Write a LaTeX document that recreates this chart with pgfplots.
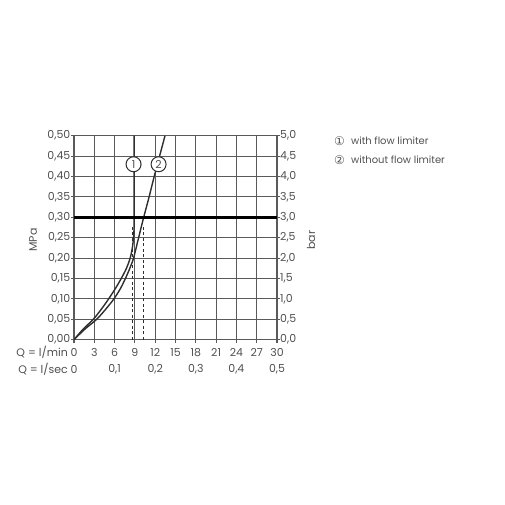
\documentclass[border=0pt]{standalone}
\usepackage{fontspec}
\setmainfont{Poppins}
\newfontfamily\symfont{DejaVu Sans}
\usepackage{pgfplots}
\pgfplotsset{compat=1.18}
\definecolor{txt}{HTML}{505050}
\definecolor{grd}{HTML}{5A5A5A}
\definecolor{crv}{HTML}{2E2E2E}
\begin{document}
\begin{tikzpicture}[x=1bp,y=1bp]
\useasboundingbox (0,0) rectangle (505,505);
\coordinate (O) at (74,165.3);
\begin{axis}[
  at={(O)}, anchor=south west,
  scale only axis, width=203bp, height=204bp,
  xmin=0, xmax=30, ymin=0, ymax=0.5,
  xtick={0,3,...,30}, ytick={0,0.05,...,0.5},
  xticklabels={}, yticklabels={},
  xtick pos=lower, ytick pos=both,
  grid=major, major grid style={grd, line width=1.1bp},
  axis line style={grd, line width=1.1bp},
  tick style={grd, line width=1.1bp}, tick align=outside, major tick length=3bp,
  clip=true,
]
% curve 1: with flow limiter
\addplot[crv, line width=1.4bp, smooth, tension=0.5] coordinates {
 (0,0) (1.3,0.025) (2.85,0.05) (4.05,0.075) (5.12,0.10) (6.1,0.125) (6.98,0.15)
 (7.75,0.175) (8.3,0.20) (8.62,0.225) (8.8,0.25) (8.88,0.28) (8.88,0.35) (8.88,0.50)};
% curve 2: without flow limiter
\addplot[crv, line width=1.4bp, smooth, tension=0.5] coordinates {
 (0,0) (1.55,0.025) (3.35,0.05) (4.7,0.075) (5.9,0.10) (6.85,0.125) (7.6,0.15)
 (8.25,0.175) (8.8,0.20) (9.55,0.25) (10.3,0.30) (11.1,0.35) (11.85,0.40) (12.65,0.45) (13.45,0.50)};
% dashed reading lines
\addplot[crv, line width=0.9bp, dash pattern=on 3bp off 2.5bp] coordinates {(8.6,0) (8.6,0.28)};
\addplot[crv, line width=0.9bp, dash pattern=on 3bp off 2.5bp] coordinates {(10.3,0) (10.3,0.28)};
% thick 0.3 MPa line
\addplot[black, line width=3.2bp] coordinates {(0,0.3) (30,0.3)};
\end{axis}
\begin{scope}[shift={(74,165.3)}, x=6.7667bp, y=408bp]
\node[circle, draw=crv, fill=white, line width=1bp, minimum size=15bp, inner sep=0pt, text=txt, font=\fontsize{11}{11}\selectfont] at (8.8,0.43) {1};
\node[circle, draw=crv, fill=white, line width=1bp, minimum size=15bp, inner sep=0pt, text=txt, font=\fontsize{11}{11}\selectfont] at (12.5,0.43) {2};
\foreach \v/\l in {0/{0,00},0.05/{0,05},0.1/{0,10},0.15/{0,15},0.2/{0,20},0.25/{0,25},0.3/{0,30},0.35/{0,35},0.4/{0,40},0.45/{0,45},0.5/{0,50}}
  \node[anchor=east, inner sep=0pt, text=txt, font=\fontsize{11}{12}\selectfont] at ([xshift=-3.5bp]0,\v) {\l};
\foreach \v/\l in {0/{0,0},0.05/{0,5},0.1/{1,0},0.15/{1,5},0.2/{2,0},0.25/{2,5},0.3/{3,0},0.35/{3,5},0.4/{4,0},0.45/{4,5},0.5/{5,0}}
  \node[anchor=west, inner sep=0pt, text=txt, font=\fontsize{11}{12}\selectfont] at ([xshift=3bp]30,\v) {\l};
\foreach \v in {0,3,...,30}
  \node[anchor=center, inner sep=0pt, text=txt, font=\fontsize{11}{12}\selectfont] at ([yshift=-13bp]\v,0) {\v};
\foreach \v/\l in {0/0,6/{0,1},12/{0,2},18/{0,3},24/{0,4},30/{0,5}}
  \node[anchor=center, inner sep=0pt, text=txt, font=\fontsize{11}{12}\selectfont] at ([yshift=-30bp]\v,0) {\l};
\end{scope}
\node[anchor=east, inner sep=0pt, text=txt, font=\fontsize{11}{12}\selectfont] at (68,152.3) {Q = l/min};
\node[anchor=east, inner sep=0pt, text=txt, font=\fontsize{11}{12}\selectfont] at (68,135.3) {Q = l/sec};
\node[rotate=90, inner sep=0pt, text=txt, font=\fontsize{11}{12}\selectfont] at (33,265) {MPa};
\node[rotate=90, inner sep=0pt, text=txt, font=\fontsize{11}{12}\selectfont] at (311,265) {bar};
% legend
\node[inner sep=0pt, text=txt, font=\symfont\fontsize{12}{12}\selectfont] at (339.5,364) {①};
\node[inner sep=0pt, text=txt, font=\symfont\fontsize{12}{12}\selectfont] at (339.5,345) {②};
\node[anchor=west, inner sep=0pt, text=txt, font=\fontsize{10}{12}\selectfont] at (351,364) {with flow limiter};
\node[anchor=west, inner sep=0pt, text=txt, font=\fontsize{10}{12}\selectfont] at (351,345) {without flow limiter};
\end{tikzpicture}
\end{document}
